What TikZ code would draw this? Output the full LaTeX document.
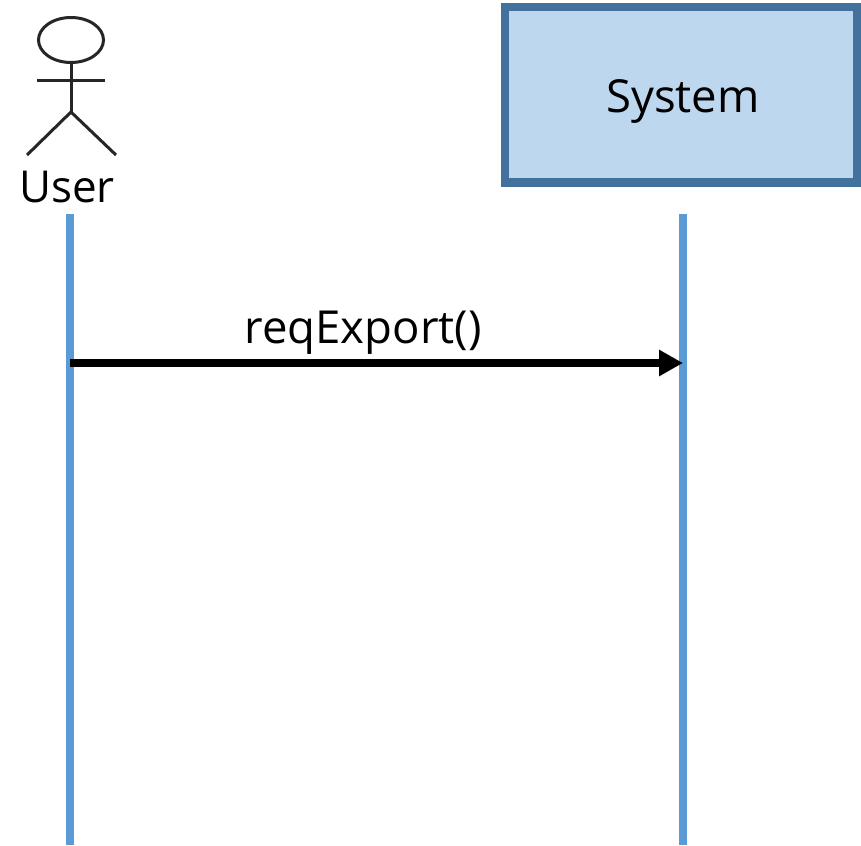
\documentclass[tikz,border=0pt]{standalone}
\usepackage{fontspec}
\setmainfont{Open Sans}
\usetikzlibrary{arrows.meta,shapes.geometric}
\definecolor{lifeblue}{HTML}{5B9BD5}
\definecolor{boxfill}{HTML}{BDD7EE}
\definecolor{boxedge}{HTML}{41719C}
\tikzset{
	lifeline/.style={draw=lifeblue, line width=8pt},
	message/.style={draw=black, line width=8pt, -{Triangle[length=24pt,width=25pt]}},
	limb/.style={draw=black!85, line width=3pt},
	label/.style={font=\fontsize{45.5}{54}\selectfont, inner sep=0pt, anchor=base}
}
\begin{document}
\begin{tikzpicture}[y=-1pt, x=1pt]
	\useasboundingbox (0,0) rectangle (861,845);
	
	% system box
	\node (system) [draw=boxedge, fill=boxfill, line width=8pt, minimum width=352pt, minimum height=175pt, inner sep=0pt, outer sep=0pt, anchor=north west] at (505,7.5) {};
	\node (systemtext) [label] at (683,113) {System};
	
	% actor
	\node (head) [draw=black!85, line width=3pt, ellipse, minimum width=65pt, minimum height=45pt, inner sep=0pt, outer sep=0pt] at (71,40) {};
	\coordinate (hip) at (71,112);
	\coordinate (armleft) at (37,81);
	\coordinate (armright) at (105,81);
	\coordinate (footleft) at (27,155);
	\coordinate (footright) at (116,155);
	\draw[limb] (head.south) -- (hip);
	\draw[limb] (armleft) -- (armright);
	\draw[limb] (footleft) -- (hip) -- (footright);
	\node (usertext) [label, font=\fontsize{44}{54}\selectfont] at (67,202) {User};
	
	% lifelines
	\coordinate (usertop) at (70,214);
	\coordinate (userbottom) at (70,845);
	\coordinate (systemtop) at (683,214);
	\coordinate (systembottom) at (683,845);
	\draw[lifeline] (usertop) -- (userbottom);
	\draw[lifeline] (systemtop) -- (systembottom);
	
	% message
	\coordinate (msgstart) at (70,363);
	\coordinate (msgend) at (683,363);
	\draw[message] (msgstart) -- (msgend);
	\node (msgtext) [label] at (363,343) {reqExport()};
\end{tikzpicture}
\end{document}
